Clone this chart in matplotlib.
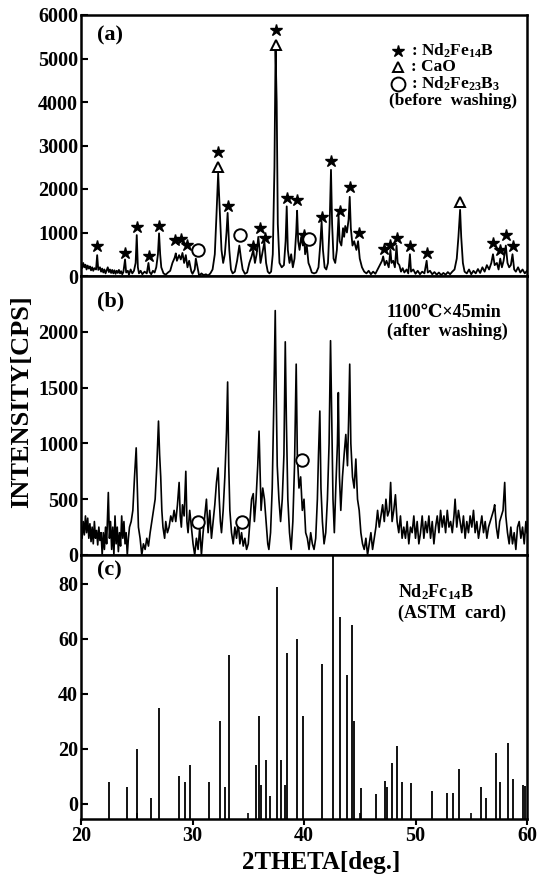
import numpy as np
import matplotlib
matplotlib.use('Agg')
import matplotlib.pyplot as plt
from matplotlib import rcParams
rcParams['font.family'] = ['Liberation Serif', 'DejaVu Serif']
rcParams['font.weight'] = 'bold'
rcParams['mathtext.fontset'] = 'custom'
rcParams['mathtext.rm'] = 'Liberation Serif:bold'
rcParams['mathtext.it'] = 'Liberation Serif:bold'
rcParams['mathtext.bf'] = 'Liberation Serif:bold'
rcParams['mathtext.default'] = 'rm'

trace_a = [
    (20.0, 250), (20.1, 180), (20.2, 300), (20.3, 200), (20.4, 260), (20.5, 150), (20.6, 240), (20.7, 170),
    (20.8, 220), (20.9, 130), (21.0, 200), (21.1, 120), (21.2, 180), (21.35, 150), (21.45, 480), (21.55, 140),
    (21.7, 200), (21.8, 100), (21.9, 170), (22.0, 80), (22.1, 150), (22.2, 60), (22.3, 130), (22.4, 200),
    (22.5, 90), (22.6, 150), (22.7, 70), (22.8, 140), (22.9, 60), (23.0, 130), (23.1, 50), (23.2, 120),
    (23.3, 70), (23.4, 140), (23.5, 60), (23.6, 110), (23.7, 40), (23.8, 90), (23.95, 380), (24.05, 80),
    (24.2, 120), (24.3, 30), (24.45, 150), (24.6, 60), (24.75, 120), (24.9, 300), (25.0, 940), (25.1, 200),
    (25.2, 60), (25.35, 120), (25.5, 40), (25.7, 100), (25.9, 60), (26.05, 300), (26.15, 90), (26.3, 40),
    (26.45, 120), (26.6, 80), (26.75, 200), (26.9, 500), (27.0, 980), (27.1, 500), (27.2, 200), (27.4, 60),
    (27.6, 30), (27.8, 80), (28.0, 120), (28.2, 300), (28.4, 420), (28.5, 520), (28.6, 350), (28.8, 480),
    (28.95, 380), (29.1, 530), (29.25, 300), (29.4, 480), (29.55, 200), (29.7, 350), (29.9, 100), (30.0, 50),
    (30.2, 150), (30.3, 400), (30.45, 200), (30.6, 0), (30.8, 60), (31.0, 20), (31.2, 40), (31.4, 10),
    (31.6, 60), (31.8, 150), (32.0, 500), (32.15, 1400), (32.3, 2360), (32.45, 1500), (32.6, 600), (32.75, 300),
    (32.9, 500), (33.05, 1000), (33.15, 1450), (33.3, 600), (33.45, 150), (33.6, 60), (33.8, 100), (34.0, 350),
    (34.2, 700), (34.35, 400), (34.5, 150), (34.7, 50), (34.9, 80), (35.1, 300), (35.3, 450), (35.45, 600),
    (35.6, 300), (35.75, 500), (35.9, 900), (36.0, 650), (36.1, 300), (36.25, 500), (36.45, 780), (36.6, 300),
    (36.75, 100), (36.9, 60), (37.05, 100), (37.2, 500), (37.35, 2500), (37.45, 5200), (37.55, 4000), (37.65, 1200),
    (37.8, 300), (38.0, 200), (38.2, 250), (38.35, 800), (38.45, 1600), (38.55, 600), (38.7, 300), (38.85, 500),
    (39.0, 200), (39.15, 400), (39.3, 1000), (39.38, 1500), (39.48, 800), (39.6, 600), (39.75, 900), (39.9, 700),
    (40.0, 950), (40.1, 500), (40.25, 700), (40.4, 300), (40.55, 200), (40.7, 80), (40.9, 60), (41.1, 80),
    (41.3, 200), (41.45, 700), (41.58, 1250), (41.7, 600), (41.85, 200), (42.0, 150), (42.15, 300), (42.3, 1200),
    (42.42, 2440), (42.52, 1200), (42.65, 400), (42.8, 300), (42.95, 600), (43.1, 1400), (43.2, 800), (43.35, 700),
    (43.5, 1100), (43.6, 900), (43.7, 1150), (43.85, 1000), (44.0, 1300), (44.1, 1820), (44.2, 1100), (44.35, 700),
    (44.5, 800), (44.7, 600), (44.85, 800), (45.0, 400), (45.2, 200), (45.4, 100), (45.6, 60), (45.8, 120),
    (46.0, 40), (46.2, 100), (46.4, 50), (46.6, 150), (46.8, 250), (47.0, 350), (47.1, 450), (47.25, 250),
    (47.4, 350), (47.6, 200), (47.75, 600), (47.85, 300), (48.0, 350), (48.15, 200), (48.3, 700), (48.4, 300),
    (48.55, 250), (48.7, 100), (48.85, 180), (49.0, 80), (49.2, 150), (49.35, 60), (49.5, 500), (49.6, 100),
    (49.8, 150), (50.0, 50), (50.2, 120), (50.4, 40), (50.6, 100), (50.8, 60), (51.0, 350), (51.1, 80),
    (51.3, 120), (51.5, 40), (51.7, 90), (51.9, 30), (52.1, 80), (52.3, 20), (52.5, 70), (52.7, 30),
    (52.9, 90), (53.1, 40), (53.3, 100), (53.5, 150), (53.7, 400), (53.85, 900), (54.0, 1520), (54.1, 900),
    (54.25, 300), (54.4, 100), (54.6, 60), (54.8, 150), (55.0, 40), (55.2, 120), (55.4, 60), (55.6, 160),
    (55.8, 70), (56.0, 200), (56.2, 100), (56.4, 250), (56.6, 150), (56.8, 300), (56.95, 500), (57.1, 250),
    (57.3, 300), (57.45, 150), (57.6, 400), (57.75, 200), (57.9, 350), (58.1, 700), (58.25, 300), (58.4, 200),
    (58.55, 250), (58.7, 500), (58.85, 150), (59.0, 100), (59.2, 200), (59.4, 80), (59.6, 150), (59.8, 60),
    (60.0, 120),
]
star_a = [(21.45, 700), (23.95, 540), (25.0, 1130), (26.1, 450), (27.0, 1150), (28.45, 830), (29.0, 850),
          (29.5, 720), (32.3, 2850), (33.2, 1600), (35.4, 700), (36.05, 1100), (36.5, 880), (37.45, 5650),
          (38.45, 1800), (39.35, 1750), (40.0, 950), (41.6, 1350), (42.45, 2650), (43.2, 1500), (44.1, 2050),
          (44.9, 1000), (47.15, 620), (47.75, 720), (48.3, 880), (49.5, 680), (51.0, 520), (56.95, 750),
          (57.55, 600), (58.1, 950), (58.75, 700)]
tri_a = [(32.3, 2500), (37.45, 5300), (54.0, 1700)]
circ_a = [(30.45, 600), (34.3, 950), (40.45, 850)]

# (b) 1100C x 45min after washing
trace_b = [
    (20.0, 250), (20.1, 150), (20.2, 300), (20.3, 180), (20.4, 350), (20.5, 200), (20.6, 330), (20.7, 150),
    (20.8, 280), (20.9, 120), (21.0, 250), (21.1, 100), (21.2, 300), (21.3, 150), (21.4, 220), (21.5, 90),
    (21.6, 250), (21.7, 130), (21.8, 200), (21.9, 0), (22.0, 200), (22.1, 50), (22.2, 250), (22.3, 100),
    (22.45, 560), (22.55, 150), (22.65, 300), (22.75, 50), (22.85, 250), (22.95, 0), (23.05, 350), (23.15, 100),
    (23.25, 250), (23.35, 30), (23.45, 200), (23.55, 80), (23.65, 350), (23.75, 150), (23.85, 300), (23.95, 100),
    (24.05, 200), (24.15, 0), (24.25, 150), (24.35, 250), (24.5, 300), (24.65, 400), (24.8, 700), (24.95, 960),
    (25.05, 600), (25.15, 250), (25.3, 150), (25.45, 0), (25.6, 100), (25.75, 50), (25.9, 150), (26.05, 80),
    (26.2, 200), (26.35, 300), (26.5, 400), (26.65, 500), (26.8, 800), (26.95, 1200), (27.05, 900), (27.15, 700),
    (27.25, 400), (27.35, 250), (27.5, 150), (27.6, 300), (27.75, 200), (27.9, 250), (28.05, 350), (28.2, 300),
    (28.35, 400), (28.5, 300), (28.65, 450), (28.8, 650), (28.9, 350), (29.0, 250), (29.1, 450), (29.25, 350),
    (29.4, 750), (29.5, 300), (29.6, 200), (29.75, 400), (29.9, 250), (30.05, 100), (30.2, 0), (30.35, 150),
    (30.5, 50), (30.65, 250), (30.8, 0), (30.95, 200), (31.1, 350), (31.25, 500), (31.4, 200), (31.55, 400),
    (31.7, 150), (31.85, 300), (32.0, 450), (32.15, 650), (32.3, 780), (32.4, 500), (32.5, 300), (32.6, 200),
    (32.75, 400), (32.9, 700), (33.05, 1100), (33.15, 1550), (33.25, 800), (33.35, 400), (33.5, 200), (33.65, 100),
    (33.8, 250), (33.95, 150), (34.1, 300), (34.25, 100), (34.4, 200), (34.55, 80), (34.7, 150), (34.85, 50),
    (35.0, 100), (35.15, 300), (35.3, 500), (35.45, 550), (35.55, 300), (35.7, 500), (35.85, 800), (35.97, 1110),
    (36.05, 800), (36.15, 400), (36.3, 600), (36.45, 500), (36.6, 300), (36.75, 100), (36.85, 50), (37.0, 200),
    (37.15, 600), (37.3, 1400), (37.42, 2190), (37.5, 1500), (37.6, 800), (37.75, 500), (37.9, 300), (38.05, 500),
    (38.2, 900), (38.32, 1910), (38.42, 1200), (38.55, 500), (38.7, 200), (38.85, 50), (39.0, 300), (39.15, 800),
    (39.3, 1710), (39.4, 900), (39.55, 600), (39.7, 700), (39.85, 400), (40.0, 500), (40.15, 200), (40.3, 150),
    (40.45, 50), (40.6, 200), (40.75, 100), (40.9, 50), (41.05, 150), (41.2, 500), (41.3, 900), (41.42, 1290),
    (41.52, 600), (41.65, 300), (41.8, 100), (41.95, 200), (42.1, 500), (42.25, 1000), (42.38, 1920), (42.48, 1300),
    (42.6, 500), (42.72, 200), (42.85, 600), (43.0, 1000), (43.08, 1455), (43.18, 700), (43.3, 400), (43.45, 700),
    (43.6, 900), (43.75, 1080), (43.9, 800), (44.0, 1200), (44.1, 1710), (44.2, 1000), (44.35, 700), (44.5, 600),
    (44.65, 860), (44.8, 500), (44.95, 400), (45.1, 200), (45.25, 100), (45.4, 50), (45.55, 150), (45.7, 0),
    (45.85, 100), (46.0, 200), (46.15, 50), (46.3, 150), (46.45, 250), (46.6, 400), (46.75, 250), (46.9, 350),
    (47.05, 450), (47.2, 300), (47.35, 500), (47.5, 350), (47.65, 400), (47.77, 650), (47.9, 300), (48.05, 400),
    (48.2, 540), (48.35, 300), (48.5, 200), (48.65, 350), (48.8, 150), (48.95, 250), (49.1, 150), (49.25, 300),
    (49.4, 100), (49.55, 250), (49.7, 200), (49.85, 350), (50.0, 150), (50.15, 300), (50.3, 100), (50.45, 200),
    (50.6, 350), (50.75, 150), (50.9, 300), (51.05, 200), (51.2, 350), (51.35, 150), (51.5, 300), (51.65, 100),
    (51.8, 250), (51.95, 350), (52.1, 200), (52.25, 400), (52.4, 250), (52.55, 350), (52.7, 200), (52.85, 400),
    (53.0, 250), (53.15, 300), (53.3, 200), (53.45, 350), (53.55, 500), (53.7, 250), (53.85, 400), (54.0, 300),
    (54.15, 200), (54.3, 350), (54.45, 150), (54.6, 300), (54.75, 200), (54.9, 350), (55.05, 250), (55.2, 400),
    (55.35, 200), (55.5, 300), (55.65, 150), (55.8, 250), (55.95, 350), (56.1, 200), (56.25, 300), (56.4, 150),
    (56.55, 250), (56.7, 300), (56.85, 350), (57.0, 400), (57.1, 450), (57.25, 250), (57.4, 150), (57.55, 300),
    (57.7, 350), (57.85, 400), (58.0, 650), (58.1, 350), (58.25, 200), (58.4, 100), (58.55, 250), (58.7, 100),
    (58.85, 200), (59.0, 50), (59.15, 250), (59.3, 300), (59.45, 150), (59.6, 250), (59.75, 100), (59.9, 300),
    (60.0, 200),
]
circ_b = [(30.5, 300), (34.4, 300), (39.8, 850)]

# (c) ASTM card lines
astm_theta = [22.5, 24.1, 25.0, 26.3, 27.0, 28.8, 29.35, 29.75, 31.45, 32.5, 32.9, 33.3, 35.7, 35.95, 36.1,
              36.55, 36.95, 37.55, 37.9, 38.3, 38.45, 39.4, 39.95, 41.62, 42.63, 43.2, 43.85, 44.3, 44.5,
              45.12, 46.45, 47.25, 47.4, 47.87, 48.34, 48.8, 49.62, 51.47, 52.8, 53.33, 53.93, 55.86, 56.32,
              57.22, 57.58, 58.3, 58.7, 59.65, 59.8]
astm_int = [8, 6, 20, 2, 35, 10, 8, 14, 8, 30, 6, 54, 14, 32, 7,
            16, 3, 79, 16, 7, 55, 60, 32, 51, 100, 68, 47, 65, 30,
            5.6, 3.6, 8.5, 6, 15, 21, 8, 7.5, 4.7, 4, 4, 12.6, 6, 2,
            18.5, 8, 22, 9, 7, 6.5]

fig = plt.figure(figsize=(5.39, 8.74), dpi=100)

def box(top, bottom):
    return [81/539, 1 - bottom/874, 446/539, (bottom - top)/874]

ax_a = fig.add_axes(box(15, 276))
ax_b = fig.add_axes(box(276, 555))
ax_c = fig.add_axes(box(555, 819))

for ax in (ax_a, ax_b, ax_c):
    ax.set_xlim(20, 60)
    for s in ax.spines.values():
        s.set_linewidth(1.8)
    ax.tick_params(axis='y', direction='in', length=5, width=1.5, pad=2, labelsize=14.5)
    ax.tick_params(axis='x', which='both', length=0, labelbottom=False)

xa, ya = np.array(trace_a).T
ax_a.plot(xa, ya, 'k-', lw=1.3)
sx, sy = np.array(star_a).T
ax_a.plot(sx, sy, ls='none', marker='*', color='k', ms=9)
tx, ty = np.array(tri_a).T
ax_a.plot(tx, ty, ls='none', marker='^', mfc='white', mec='k', mew=1.4, ms=7)
cx, cy = np.array(circ_a).T
ax_a.plot(cx, cy, ls='none', marker='o', mfc='white', mec='k', mew=1.4, ms=9)
ax_a.set_ylim(0, 6000)
ax_a.set_yticks([0, 1000, 2000, 3000, 4000, 5000, 6000])
ax_a.text(0.035, 0.92, '(a)', transform=ax_a.transAxes, fontsize=16, va='center')

# legend of phases
kw = dict(transform=ax_a.transAxes, ls='none', color='k', clip_on=False)
ax_a.plot([0.71], [0.862], marker='*', ms=9, **kw)
ax_a.plot([0.71], [0.799], marker='^', mfc='white', mec='k', mew=1.4, ms=7, **kw)
ax_a.plot([0.71], [0.737], marker='o', mfc='white', mec='k', mew=1.4, ms=10, **kw)
tk = dict(transform=ax_a.transAxes, fontsize=12.5, va='center')
ax_a.text(0.74, 0.862, r': Nd$_2$Fe$_{14}$B', **tk)
ax_a.text(0.74, 0.799, ': CaO', **tk)
ax_a.text(0.74, 0.737, r': Nd$_2$Fe$_{23}$B$_3$', **tk)
ax_a.text(0.69, 0.672, '(before  washing)', **tk)

xb, yb = np.array(trace_b).T
ax_b.plot(xb, yb, 'k-', lw=1.2)
cx, cy = np.array(circ_b).T
ax_b.plot(cx, cy, ls='none', marker='o', mfc='white', mec='k', mew=1.4, ms=9)
ax_b.set_ylim(0, 2500)
ax_b.set_yticks([0, 500, 1000, 1500, 2000])
ax_b.text(0.035, 0.91, '(b)', transform=ax_b.transAxes, fontsize=16, va='center')
ax_b.text(0.685, 0.87, '1100℃×45min', transform=ax_b.transAxes, fontsize=13, va='center')
ax_b.text(0.685, 0.80, '(after  washing)', transform=ax_b.transAxes, fontsize=13, va='center')

ax_c.vlines(astm_theta, -10, astm_int, colors='k', lw=1.3)
ax_c.set_ylim(-5.5, 90.5)
ax_c.set_yticks([0, 20, 40, 60, 80])
ax_c.text(0.035, 0.94, '(c)', transform=ax_c.transAxes, fontsize=16, va='center')
ax_c.text(0.71, 0.86, r'Nd$_2$Fc$_{14}$B', transform=ax_c.transAxes, fontsize=13, va='center')
ax_c.text(0.71, 0.78, '(ASTM  card)', transform=ax_c.transAxes, fontsize=13, va='center')
ax_c.set_xticks([20, 30, 40, 50, 60])
ax_c.set_xticks([25, 35, 45, 55], minor=True)
ax_c.tick_params(axis='x', which='major', direction='out', length=4, width=1.5,
                 labelbottom=True, labelsize=14.5, pad=1)
ax_c.tick_params(axis='x', which='minor', direction='in', length=4, width=1.2)

fig.text(0.041, 0.541, 'INTENSITY[CPS]', rotation=90, fontsize=19, ha='center', va='center')
fig.text(0.596, 0.0126, '2THETA[deg.]', fontsize=18, ha='center', va='center')

fig.savefig('out.png', dpi=100)
